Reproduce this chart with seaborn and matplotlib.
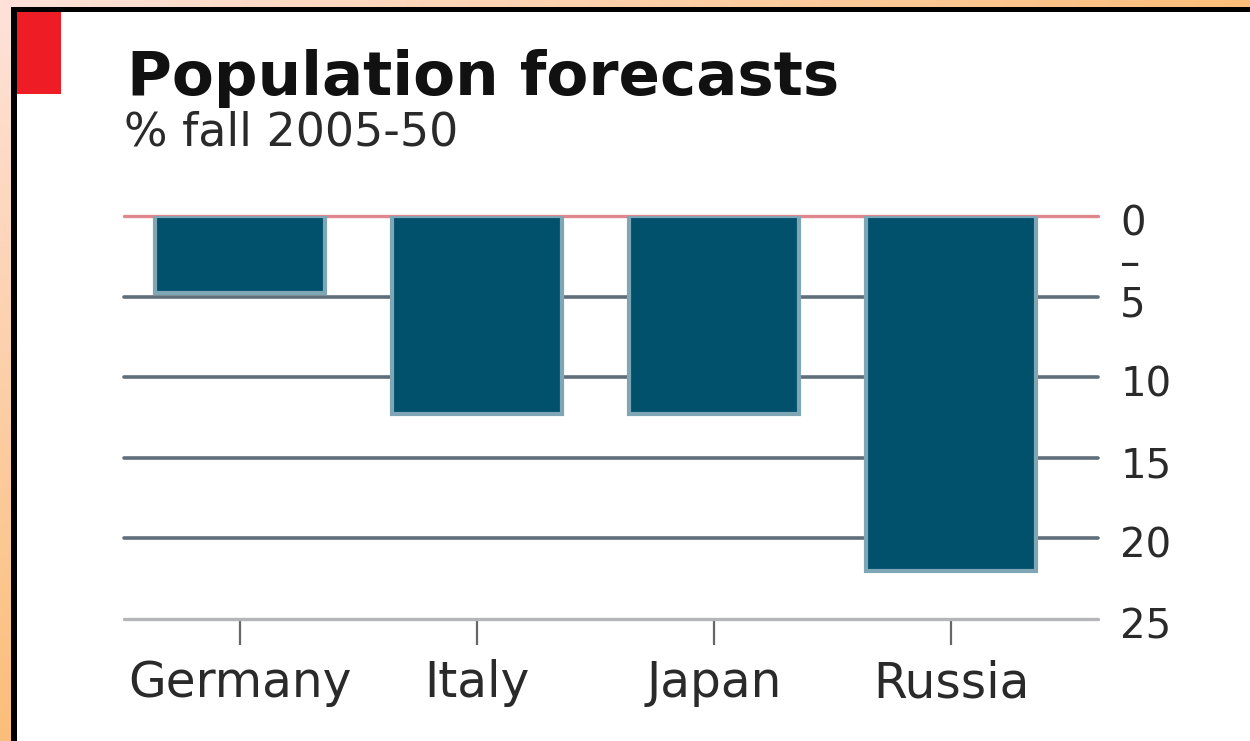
import matplotlib
matplotlib.use('Agg')
import matplotlib.pyplot as plt
import matplotlib.patches as mpatches
import matplotlib.transforms as mtransforms
import seaborn as sns
import numpy as np

sns.set_style('white')
plt.rcParams['font.family'] = ['DejaVu Sans']

# data
countries = ['Germany', 'Italy', 'Japan', 'Russia']
pct_fall = [4.8, 12.3, 12.3, 22.0]
ytick_vals = [0, 2.5, 5, 10, 15, 20, 25]
ytick_text = ['0', '–', '5', '10', '15', '20', '25']
grid_vals = [5, 10, 15, 20]

BAR = '#02516C'
BAR_EDGE = '#7EA6B5'
W, H = 1250, 741

fig = plt.figure(figsize=(12.5, 7.41), dpi=100)

# orange/peach gradient backdrop
bg = fig.add_axes([0, 0, 1, 1], zorder=-10)
xx, yy = np.meshgrid(np.linspace(0, 1, 200), np.linspace(0, 1, 120))
t = np.clip(xx + yy, 0, 1)[..., None]
pink = np.array([254, 226, 218]) / 255
orange = np.array([251, 190, 122]) / 255
bg.imshow(pink * (1 - t) + orange * t, aspect='auto', extent=[0, 1, 1, 0])
bg.set_axis_off()


def fig_rect(x0, y0, x1, y1, color, z):
    # pixel box (top-left origin) -> figure rectangle
    fig.patches.append(mpatches.Rectangle((x0 / W, 1 - y1 / H), (x1 - x0) / W, (y1 - y0) / H,
                                          transform=fig.transFigure, facecolor=color,
                                          linewidth=0, antialiased=False, zorder=z))


fig_rect(11, 7, W, H, 'black', -5)
fig_rect(17, 12, W, H, 'white', -4)
fig_rect(17, 12, 61, 94, '#EE1C25', -3)

fig.text(127 / W, 1 - 95 / H, 'Population forecasts', fontsize=44, fontweight='bold',
         va='baseline', ha='left', color='#111111')
fig.text(124 / W, 1 - 145 / H, '% fall 2005-50', fontsize=33, va='baseline', ha='left',
         color='#2a2a2a')

ax = fig.add_axes([124 / W, 1 - 619 / H, 974 / W, 403 / H])
ax.patch.set_alpha(0)
sns.barplot(x=countries, y=pct_fall, color=BAR, width=0.72, edgecolor=BAR_EDGE,
            linewidth=3, saturation=1, ax=ax, zorder=3)

for g in grid_vals:
    ax.axhline(g, color='#5F6E79', lw=2.6, zorder=1, clip_on=False)
ax.axhline(0, color='#E0868D', lw=2.4, zorder=1, clip_on=False)
ax.axhline(25, color='#B3B5B8', lw=2.4, zorder=1, clip_on=False)

ax.set_ylim(25, 0)
ax.set_xlim(-0.49, 3.62)
ax.yaxis.tick_right()
ax.set_yticks(ytick_vals)
ax.set_yticklabels(ytick_text)
ax.tick_params(axis='y', length=0, pad=16, labelsize=29, labelcolor='#2a2a2a')
ax.tick_params(axis='x', bottom=True, direction='out', length=19, width=1.6, color='#666666',
               pad=10, labelsize=35, labelcolor='#2a2a2a')
# the right-hand numbers sit a little below their lines
shift = mtransforms.ScaledTranslation(0, -4 / 100, fig.dpi_scale_trans)
for lab in ax.get_yticklabels():
    lab.set_transform(lab.get_transform() + shift)
ax.set_xlabel('')
ax.set_ylabel('')
for s in ax.spines.values():
    s.set_visible(False)

plt.savefig('out.png', dpi=100)
plt.close()
